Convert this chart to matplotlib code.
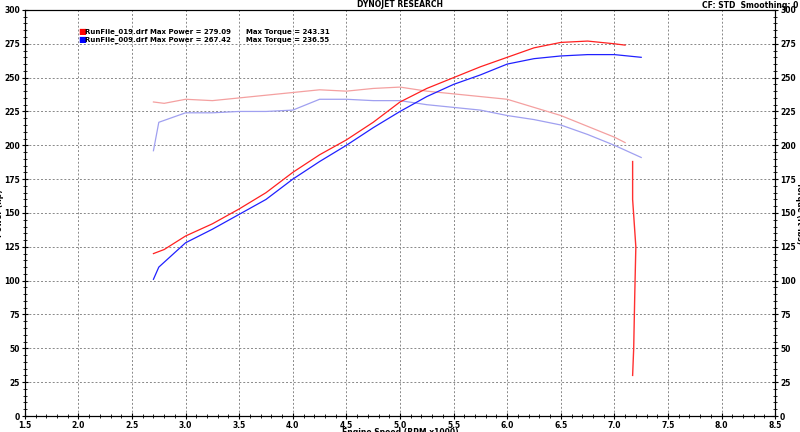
import matplotlib
matplotlib.use('Agg')
import matplotlib.pyplot as plt
from matplotlib.ticker import MultipleLocator

plt.rcParams['font.family'] = ['DejaVu Sans']

rpm_red = [2.7, 2.8, 3.0, 3.25, 3.5, 3.75, 4.0, 4.25, 4.5, 4.75, 5.0, 5.25, 5.5, 5.75, 6.0, 6.25, 6.5, 6.75, 7.0, 7.1]
hp_red = [120, 123, 133, 142, 153, 165, 180, 193, 204, 217, 232, 242, 250, 258, 265, 272, 276, 277, 275, 274]
tq_red = [232, 231, 234, 233, 235, 237, 239, 241, 240, 242, 243, 240, 238, 236, 234, 228, 222, 214, 206, 202]

rpm_blue = [2.7, 2.75, 3.0, 3.25, 3.5, 3.75, 4.0, 4.25, 4.5, 4.75, 5.0, 5.25, 5.5, 5.75, 6.0, 6.25, 6.5, 6.75, 7.0, 7.25]
hp_blue = [101, 110, 128, 138, 149, 160, 175, 188, 200, 213, 225, 236, 245, 252, 260, 264, 266, 267, 267, 265]
tq_blue = [196, 217, 224, 224, 225, 225, 226, 234, 234, 233, 233, 230, 228, 226, 222, 219, 215, 208, 200, 191]

drop_rpm = [7.17, 7.17, 7.2, 7.19, 7.18, 7.17]
drop_val = [188, 160, 125, 90, 50, 30]

fig, ax = plt.subplots(figsize=(8, 4.32), dpi=100)
fig.subplots_adjust(left=0.031, right=0.969, bottom=0.037, top=0.977)

ax.plot(rpm_red, tq_red, color='#f4a0a0', lw=0.9)
ax.plot(rpm_blue, tq_blue, color='#a0a0f0', lw=0.9)
ax.plot(rpm_red, hp_red, color='#ff2020', lw=0.9)
ax.plot(rpm_blue, hp_blue, color='#2020ff', lw=0.9)
ax.plot(drop_rpm, drop_val, color='#ff3030', lw=1.0)

ax.set_xlim(2.0, 8.0)
ax.set_ylim(0, 300)
ax.xaxis.set_major_locator(MultipleLocator(0.5))
ax.xaxis.set_minor_locator(MultipleLocator(0.1))
ax.yaxis.set_major_locator(MultipleLocator(25))
ax.yaxis.set_minor_locator(MultipleLocator(5))
ax.grid(True, which='major', color='#888888', ls=(0, (2, 2)), lw=0.7)
ax.tick_params(labelsize=5.5, direction='inout', length=5, pad=1)
ax.tick_params(which='minor', direction='inout', length=3)
ax.set_xticks(ax.get_xticks())
ax.set_xticklabels([f'{v:.1f}' for v in ax.get_xticks()])
for lbl in ax.get_xticklabels() + ax.get_yticklabels():
    lbl.set_fontweight('bold')

ax2 = ax.twinx()
ax2.set_ylim(0, 300)
ax2.yaxis.set_major_locator(MultipleLocator(25))
ax2.yaxis.set_minor_locator(MultipleLocator(5))
ax2.tick_params(labelsize=5.5, direction='inout', length=5, pad=1)
ax2.tick_params(which='minor', direction='inout', length=3)
for lbl in ax2.get_yticklabels():
    lbl.set_fontweight('bold')
ax2.set_ylabel('Torque (ft-lbs)', fontsize=5.5, fontweight='bold', rotation=270, labelpad=6)

ax.set_ylabel('Power (hp)', fontsize=5.5, fontweight='bold', labelpad=0)
ax.set_xlabel('Engine Speed (RPM x1000)', fontsize=5.5, fontweight='bold', labelpad=-1)
ax.set_title('DYNOJET RESEARCH', fontsize=5.5, fontweight='bold', pad=2)
fig.text(0.998, 0.998, 'CF: STD  Smoothing: 0', fontsize=5.5, fontweight='bold', ha='right', va='top')

ax.text(2.0, 284, '\u25a0', color='#ff0000', fontsize=6, va='center')
ax.text(2.0, 278.5, '\u25a0', color='#0000ff', fontsize=6, va='center')
ax.text(2.06, 284, 'RunFile_019.drf Max Power = 279.09      Max Torque = 243.31', fontsize=5, fontweight='bold', va='center')
ax.text(2.06, 278.5, 'RunFile_009.drf Max Power = 267.42      Max Torque = 236.55', fontsize=5, fontweight='bold', va='center')

plt.savefig('out.png', dpi=100)
plt.close()
